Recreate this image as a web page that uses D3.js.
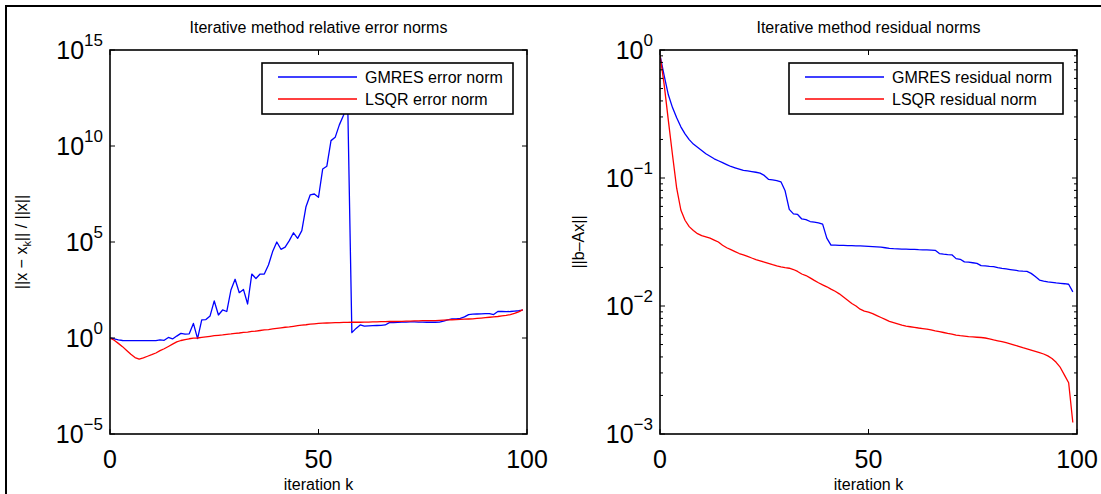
<!DOCTYPE html>
<html>
<head>
<meta charset="utf-8">
<script src="https://cdn.jsdelivr.net/npm/d3@7"></script>
<style>
  body { margin: 0; background: #fff; }
  svg { font-family: "Liberation Sans", Arial, Helvetica, sans-serif; display: block; }
</style>
</head>
<body>
<svg id="chart" width="1101" height="494"></svg>
<script>
// iteration index k
const iterations = [
  0,1,2,3,4,5,6,7,8,9,10,11,12,13,14,15,16,17,18,19,
  20,21,22,23,24,25,26,27,28,29,30,31,32,33,34,35,36,37,38,39,
  40,41,42,43,44,45,46,47,48,49,50,51,52,53,54,55,56,57,58,59,
  60,61,62,63,64,65,66,67,68,69,70,71,72,73,74,75,76,77,78,79,
  80,81,82,83,84,85,86,87,88,89,90,91,92,93,94,95,96,97,98,99
];

// all series are stored as decade exponents (log10)
const gmresErrorExp = [
  0,-0.05,-0.1,-0.13,-0.14,-0.14,-0.14,-0.14,-0.14,-0.14,
  -0.14,-0.14,-0.1,-0.12,0.03,-0.05,0.1,0.24,0.2,0.22,
  0.76,-0.03,0.94,0.96,1.15,1.93,1.2,1.46,1.38,2.5,
  3.06,2.36,2.53,1.77,3.33,3.1,3.33,3.33,3.8,4.5,
  5.0,4.62,4.73,5.07,5.48,5.19,5.59,6.84,7.45,7.5,
  7.33,8.8,8.95,10.28,10.45,11.1,11.6,12.3,0.28,0.5,
  0.68,0.62,0.63,0.64,0.65,0.66,0.68,0.8,0.8,0.82,
  0.83,0.83,0.84,0.84,0.83,0.83,0.82,0.82,0.82,0.83,
  0.88,0.95,1.0,1.0,1.02,1.1,1.22,1.24,1.25,1.26,
  1.27,1.27,1.22,1.38,1.38,1.37,1.38,1.4,1.42,1.45
];
const lsqrErrorExp = [
  0,-0.12,-0.28,-0.45,-0.65,-0.85,-1.02,-1.1,-1.03,-0.95,
  -0.87,-0.78,-0.66,-0.56,-0.44,-0.32,-0.2,-0.13,-0.08,-0.04,
  -0.01,0.0,0.03,0.06,0.09,0.12,0.14,0.16,0.19,0.21,
  0.24,0.26,0.29,0.31,0.34,0.36,0.39,0.42,0.44,0.47,
  0.5,0.53,0.56,0.58,0.61,0.64,0.67,0.69,0.72,0.74,
  0.76,0.77,0.78,0.79,0.8,0.8,0.81,0.81,0.82,0.82,
  0.82,0.83,0.83,0.84,0.84,0.85,0.85,0.86,0.86,0.87,
  0.87,0.88,0.88,0.89,0.89,0.9,0.9,0.91,0.91,0.92,
  0.93,0.94,0.95,0.96,0.97,0.98,0.99,1.0,1.02,1.04,
  1.06,1.08,1.1,1.12,1.15,1.18,1.22,1.28,1.36,1.48
];
const gmresResidualExp = [
  -0.04,-0.2,-0.35,-0.45,-0.53,-0.6,-0.655,-0.7,-0.735,-0.76,
  -0.785,-0.81,-0.83,-0.85,-0.865,-0.88,-0.895,-0.91,-0.92,-0.93,
  -0.94,-0.945,-0.95,-0.955,-0.962,-0.98,-1.01,-1.015,-1.02,-1.03,
  -1.1,-1.245,-1.28,-1.285,-1.32,-1.325,-1.34,-1.345,-1.35,-1.36,
  -1.47,-1.525,-1.525,-1.526,-1.527,-1.528,-1.529,-1.53,-1.53,-1.532,
  -1.534,-1.536,-1.538,-1.54,-1.545,-1.55,-1.552,-1.553,-1.555,-1.556,
  -1.557,-1.558,-1.56,-1.561,-1.562,-1.563,-1.565,-1.59,-1.595,-1.598,
  -1.6,-1.63,-1.635,-1.655,-1.658,-1.662,-1.667,-1.685,-1.687,-1.69,
  -1.692,-1.7,-1.706,-1.71,-1.715,-1.72,-1.725,-1.728,-1.73,-1.745,
  -1.77,-1.797,-1.805,-1.812,-1.815,-1.82,-1.823,-1.826,-1.83,-1.89
];
const lsqrResidualExp = [
  -0.04,-0.27,-0.55,-0.82,-1.08,-1.25,-1.33,-1.38,-1.41,-1.435,
  -1.45,-1.46,-1.47,-1.485,-1.5,-1.525,-1.545,-1.56,-1.575,-1.59,
  -1.6,-1.612,-1.625,-1.637,-1.647,-1.657,-1.667,-1.677,-1.686,-1.694,
  -1.7,-1.705,-1.715,-1.73,-1.75,-1.762,-1.78,-1.8,-1.818,-1.835,
  -1.85,-1.868,-1.885,-1.905,-1.93,-1.955,-1.98,-2.0,-2.025,-2.04,
  -2.048,-2.06,-2.075,-2.09,-2.105,-2.12,-2.13,-2.14,-2.15,-2.157,
  -2.162,-2.167,-2.172,-2.176,-2.18,-2.187,-2.194,-2.2,-2.207,-2.214,
  -2.22,-2.227,-2.232,-2.236,-2.24,-2.242,-2.244,-2.246,-2.25,-2.257,
  -2.265,-2.272,-2.279,-2.287,-2.295,-2.305,-2.315,-2.326,-2.335,-2.345,
  -2.355,-2.365,-2.375,-2.39,-2.41,-2.44,-2.48,-2.54,-2.6,-2.91
];

// tick labels
const xTickValues = [0, 50, 100];
const errorTickExps = [-5, 0, 5, 10, 15];
const residualTickExps = [-3, -2, -1, 0];

const seriesColors = ['#0000ff', '#ff0000'];

class SemilogPlot {

  constructor(_config) {
    this.config = {
      parentElement: _config.parentElement,
      left: _config.left,
      top: 50,
      width: 417,
      height: 384,
      tickExps: _config.tickExps,
      minorTicks: _config.minorTicks,
      title: _config.title,
      yLabel: _config.yLabel,
      yLabelX: _config.yLabelX,
      labels: _config.labels,
      series: _config.series,
      legendWidth: _config.legendWidth
    }
    this.initVis();
  }

  initVis() {
    let vis = this;
    const c = vis.config;

    vis.svg = d3.select(c.parentElement);
    vis.chart = vis.svg.append('g')
      .attr('transform', `translate(${c.left}, ${c.top})`);

    vis.xScale = d3.scaleLinear()
      .domain([xTickValues[0], xTickValues[xTickValues.length - 1]])
      .range([0, c.width]);

    vis.yScale = d3.scaleLog()
      .domain([10 ** c.tickExps[0], 10 ** c.tickExps[c.tickExps.length - 1]])
      .range([c.height, 0]);

    vis.clipId = 'clip' + c.left;
    vis.chart.append('clipPath').attr('id', vis.clipId)
      .append('rect').attr('width', c.width).attr('height', c.height);

    vis.updateVis();
  }

  updateVis() {
    let vis = this;
    vis.lines = vis.config.series.map(s => iterations.map((k, i) => [k, 10 ** s[i]]));
    vis.renderVis();
  }

  renderVis() {
    let vis = this;
    const c = vis.config;
    const g = vis.chart;

    // data lines
    const line = d3.line()
      .x(d => vis.xScale(d[0]))
      .y(d => vis.yScale(d[1]));

    g.append('g').attr('clip-path', `url(#${vis.clipId})`)
      .selectAll('path').data(vis.lines).join('path')
      .attr('d', line)
      .attr('fill', 'none')
      .attr('stroke', (d, i) => seriesColors[i])
      .attr('stroke-width', 1.3)
      .attr('stroke-linejoin', 'round');

    // inward ticks on all four sides (MATLAB box style)
    const majorLen = 5, minorLen = 3;
    const ticks = g.append('g').attr('stroke', '#000').attr('stroke-width', 1);
    xTickValues.forEach(v => {
      const x = vis.xScale(v);
      ticks.append('line').attr('x1', x).attr('x2', x).attr('y1', c.height).attr('y2', c.height - majorLen);
      ticks.append('line').attr('x1', x).attr('x2', x).attr('y1', 0).attr('y2', majorLen);
    });
    const majorVals = c.tickExps.map(e => 10 ** e);
    const yTickVals = c.minorTicks ? vis.yScale.ticks() : majorVals;
    yTickVals.forEach(v => {
      const y = vis.yScale(v);
      const isMajor = Math.abs(Math.log10(v) - Math.round(Math.log10(v))) < 1e-9;
      const len = isMajor ? majorLen : minorLen;
      ticks.append('line').attr('x1', 0).attr('x2', len).attr('y1', y).attr('y2', y);
      ticks.append('line').attr('x1', c.width).attr('x2', c.width - len).attr('y1', y).attr('y2', y);
    });

    // axes box
    g.append('rect')
      .attr('width', c.width).attr('height', c.height)
      .attr('fill', 'none').attr('stroke', '#000').attr('stroke-width', 1.6);

    // x tick labels
    g.selectAll('.xlab').data(xTickValues).join('text')
      .attr('class', 'xlab')
      .attr('x', d => vis.xScale(d))
      .attr('y', c.height + 34)
      .attr('text-anchor', 'middle')
      .attr('font-size', 25)
      .text(d => d);

    // y tick labels 10^n
    const ylab = g.selectAll('.ylab').data(c.tickExps).join('text')
      .attr('class', 'ylab')
      .attr('x', -7)
      .attr('y', d => vis.yScale(10 ** d) + 9)
      .attr('text-anchor', 'end')
      .attr('font-size', 25);
    ylab.append('tspan').text('10');
    ylab.append('tspan')
      .attr('dy', -13)
      .attr('font-size', 17)
      .text(d => d < 0 ? '\u2212' + Math.abs(d) : d);

    // title
    g.append('text')
      .attr('x', c.width / 2).attr('y', -17)
      .attr('text-anchor', 'middle')
      .attr('font-size', 16)
      .text(c.title);

    // x label
    g.append('text')
      .attr('x', c.width / 2).attr('y', c.height + 56)
      .attr('text-anchor', 'middle')
      .attr('font-size', 16)
      .text('iteration k');

    // y label
    const yl = g.append('text')
      .attr('transform', `translate(${c.yLabelX}, ${c.height / 2}) rotate(-90)`)
      .attr('text-anchor', 'middle')
      .attr('font-size', 16);
    c.yLabel.forEach(part => {
      const t = yl.append('tspan').text(part.text);
      if (part.sub) t.attr('font-size', 11).attr('dy', 4);
      if (part.after) t.attr('dy', -4);
    });

    // legend
    const lx = c.width - 14 - c.legendWidth, ly = 13;
    const legend = g.append('g').attr('transform', `translate(${lx}, ${ly})`);
    legend.append('rect')
      .attr('width', c.legendWidth).attr('height', 51)
      .attr('fill', '#fff').attr('stroke', '#000').attr('stroke-width', 1.6);
    c.labels.forEach((lab, i) => {
      const y = 14 + i * 22;
      legend.append('line')
        .attr('x1', 16).attr('x2', 95).attr('y1', y).attr('y2', y)
        .attr('stroke', seriesColors[i]).attr('stroke-width', 1.3);
      legend.append('text')
        .attr('x', 103).attr('y', y + 6)
        .attr('font-size', 16)
        .text(lab);
    });
  }
}

const svg = d3.select('#chart');
svg.append('rect').attr('width', 1101).attr('height', 494).attr('fill', '#fff');

new SemilogPlot({
  parentElement: '#chart',
  left: 110,
  tickExps: errorTickExps,
  minorTicks: false,
  title: 'Iterative method relative error norms',
  yLabel: [{ text: '||x \u2212 x' }, { text: 'k', sub: true }, { text: '|| / ||x||', after: true }],
  yLabelX: -83,
  labels: ['GMRES error norm', 'LSQR error norm'],
  series: [gmresErrorExp, lsqrErrorExp],
  legendWidth: 251
});

new SemilogPlot({
  parentElement: '#chart',
  left: 660,
  tickExps: residualTickExps,
  minorTicks: true,
  title: 'Iterative method residual norms',
  yLabel: [{ text: '||b\u2013Ax||' }],
  yLabelX: -76,
  labels: ['GMRES residual norm', 'LSQR residual norm'],
  series: [gmresResidualExp, lsqrResidualExp],
  legendWidth: 274
});

// outer figure frame (top and left edges visible)
svg.append('path')
  .attr('d', 'M6,494V6H1101')
  .attr('fill', 'none')
  .attr('stroke', '#000')
  .attr('stroke-width', 2);
</script>
</body>
</html>
